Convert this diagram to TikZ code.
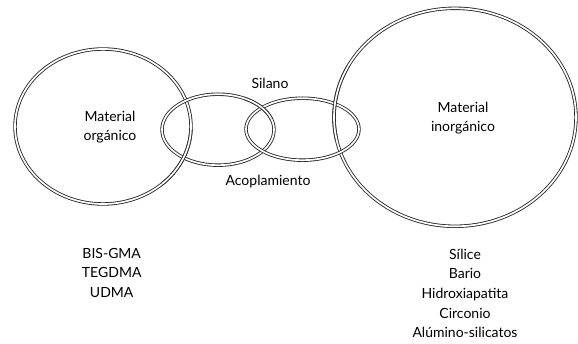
\documentclass[tikz,border=0pt]{standalone}
\usepackage{fontspec}
\setmainfont{Lato}
\begin{document}
\begin{tikzpicture}[x=1pt,y=1pt,
  ring/.style={draw=black!85, line width=0.85pt, double=white, double distance=1.7pt},
  lbl/.style={align=center, inner sep=0pt, font=\fontsize{14}{19.7}\selectfont}]
\useasboundingbox (0,0) rectangle (578,343);
% centres of the rings
\coordinate (lc) at (103,216.5);
\coordinate (rc) at (455,225.7);
\coordinate (e1c) at (218,213.3);
\coordinate (e2c) at (302.5,213.8);
% full rings
\draw[ring] (lc) ellipse[x radius=88, y radius=77.5];
\draw[ring] (rc) ellipse[x radius=121, y radius=109];
\draw[ring] (e1c) ellipse[x radius=56, y radius=35.5];
\draw[ring] (e2c) ellipse[x radius=56.5, y radius=31];
% over-crossings
\draw[ring] (lc) ++(312:88 and 77.5) arc[start angle=312, end angle=358, x radius=88, y radius=77.5];
\draw[ring] (e1c) ++(18:56 and 35.5) arc[start angle=18, end angle=62, x radius=56, y radius=35.5];
\draw[ring] (rc) ++(152:121 and 109) arc[start angle=152, end angle=192, x radius=121, y radius=109];
% labels
\node[lbl] (org) at (110,216) {Material\\orgánico};
\node[lbl] (inorg) at (463,225) {Material\\inorgánico};
\node[lbl] (sil) at (270,259.7) {Silano};
\node[lbl] (aco) at (268,161.3) {Acoplamiento};
\node[lbl] (llist) at (111.7,70.3) {BIS-GMA\\TEGDMA\\UDMA};
\node[lbl] (rlist) at (465,49.7) {Sílice\\Bario\\Hidroxiapatita\\Circonio\\Alúmino-silicatos};
\end{tikzpicture}
\end{document}
